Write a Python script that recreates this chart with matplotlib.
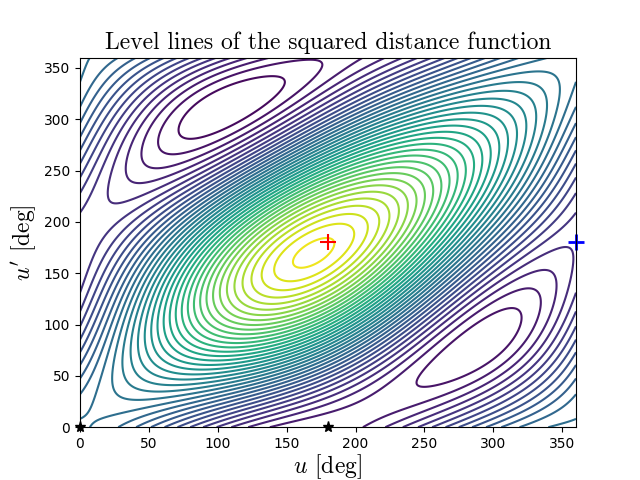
import numpy as np
import matplotlib
matplotlib.use("Agg")
import matplotlib.pyplot as plt

plt.rcParams['mathtext.fontset'] = 'cm'

# orbital elements: a, e, inclination(deg), argument of pericentre(deg), node(deg)
orb1 = [1.0, 0.3, 0.0, 0.0, 0.0]
orb2 = [1.3, 0.2, 35.0, 60.0, 120.0]
n_levels = 40

max_pt = [180, 180]
saddle_pt = [360, 180]
min_u = [0, 180]
min_up = [0, 0]


def position(orb, ang):
    a, e, inc, w, om = orb
    b = a * np.sqrt(1 - e**2)
    x = a * (np.cos(ang) - e)
    y = b * np.sin(ang)
    w, i, o = np.radians(w), np.radians(inc), np.radians(om)
    x, y = x * np.cos(w) - y * np.sin(w), x * np.sin(w) + y * np.cos(w)
    y, z = y * np.cos(i), y * np.sin(i)
    return x * np.cos(o) - y * np.sin(o), x * np.sin(o) + y * np.cos(o), z


u = np.linspace(0, 360, 400)
U, UP = np.meshgrid(u, u)
x1, y1, z1 = position(orb1, np.radians(U))
x2, y2, z2 = position(orb2, np.radians(UP))
D2 = (x1 - x2)**2 + (y1 - y2)**2 + (z1 - z2)**2

fig, ax = plt.subplots(figsize=(6.4, 4.8), dpi=100)
ax.contour(U, UP, D2, levels=n_levels, cmap='viridis', linewidths=1.5)
ax.plot(max_pt[0], max_pt[1], '+', color='red', ms=12, mew=1.5)
ax.plot(saddle_pt[0], saddle_pt[1], '+', color='blue', ms=12, mew=2, clip_on=False)
ax.plot(min_u, min_up, '*', color='black', ms=8, clip_on=False)
ax.set_xlim(0, 360)
ax.set_ylim(0, 360)
ax.set_xticks(range(0, 351, 50))
ax.set_yticks(range(0, 351, 50))
ax.set_xlabel(r"$u$ [deg]", fontsize=17, fontfamily='cmr10', labelpad=1)
ax.set_ylabel(r"$u'$ [deg]", fontsize=17, fontfamily='cmr10')
ax.set_title("Level lines of the squared distance function", fontsize=17, fontfamily='cmr10')
fig.savefig("out.png")
